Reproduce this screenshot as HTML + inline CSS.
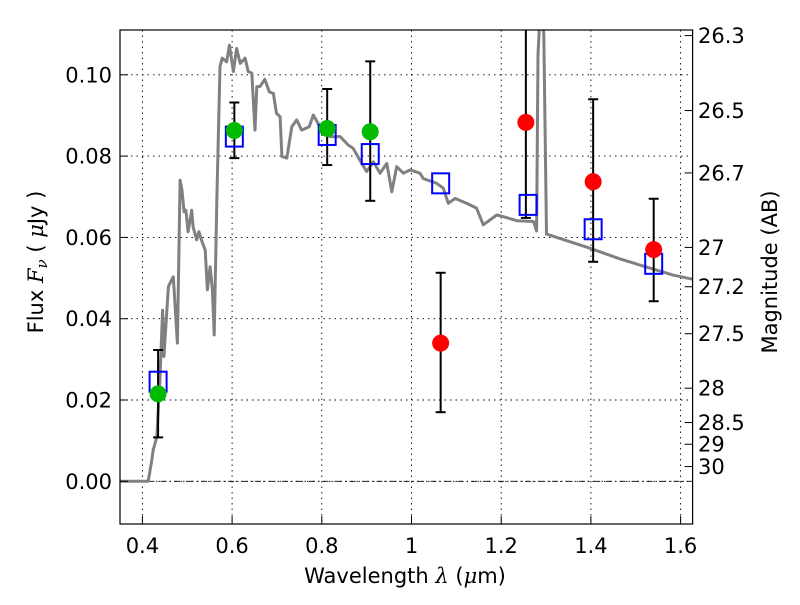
<!DOCTYPE html>
<html><head><meta charset="utf-8"><style>
body{margin:0;background:#fff;}
svg text{font-family:"DejaVu Sans","Liberation Sans",sans-serif;fill:#000;}
</style></head><body>
<svg id="chart" width="800" height="600" viewBox="0 0 800 600" xmlns="http://www.w3.org/2000/svg">
<defs><clipPath id="clip"><rect x="120" y="30" width="572.6" height="494"/></clipPath></defs>
<g id="grid"></g>
<g id="plot" clip-path="url(#clip)"></g>
<rect x="120" y="30" width="572.6" height="494" fill="none" stroke="#000" stroke-width="1.2"/>
<g id="axes"></g>
<text x="405" y="583" font-size="21" text-anchor="middle">Wavelength  <tspan font-style="italic" font-family="DejaVu Serif, serif">λ</tspan> (<tspan font-style="italic" font-family="DejaVu Serif, serif">μ</tspan>m)</text>
<text transform="translate(43,262) rotate(-90)" font-size="21" text-anchor="middle">Flux  <tspan font-style="italic" font-family="DejaVu Serif, serif">F</tspan><tspan font-style="italic" font-size="15" dy="4" font-family="DejaVu Serif, serif">ν</tspan><tspan dy="-4">  ( </tspan><tspan font-style="italic" font-family="DejaVu Serif, serif">μ</tspan>Jy )</text>
<text transform="translate(777,272) rotate(-90)" font-size="21" text-anchor="middle">Magnitude (AB)</text>
</svg>
<script>
const xTicks=[0.4,0.6,0.8,1.0,1.2,1.4,1.6];
const xTickLabels=["0.4","0.6","0.8","1","1.2","1.4","1.6"];
const yTicks=[0.00,0.02,0.04,0.06,0.08,0.10];
const yTickLabels=["0.00","0.02","0.04","0.06","0.08","0.10"];
const magTicks=[26.3,26.5,26.7,27,27.2,27.5,28,28.5,29,30];
const magTickLabels=["26.3","26.5","26.7","27","27.2","27.5","28","28.5","29","30"];
const specWave=[0.350,0.413,0.421,0.424,0.432,0.439,0.445,0.448,0.458,0.462,0.469,0.478,0.484,0.488,0.493,0.497,0.502,0.510,0.513,0.521,0.526,0.534,0.540,0.545,0.551,0.556,0.560,0.566,0.573,0.578,0.588,0.594,0.603,0.610,0.618,0.629,0.636,0.644,0.651,0.655,0.662,0.673,0.683,0.692,0.699,0.707,0.711,0.722,0.733,0.744,0.755,0.772,0.781,0.796,0.818,0.841,0.859,0.870,0.885,0.900,0.915,0.930,0.945,0.956,0.967,0.982,0.997,1.019,1.026,1.056,1.071,1.082,1.097,1.127,1.145,1.160,1.190,1.205,1.235,1.272,1.279,1.282,1.288,1.295,1.301,1.313,1.346,1.391,1.465,1.524,1.584,1.628];
const specFlux=[0,0,0.0052,0.0077,0.0109,0.0249,0.0421,0.0307,0.0479,0.0488,0.0503,0.034,0.0741,0.0717,0.0663,0.0667,0.0614,0.0667,0.0626,0.0594,0.0614,0.0586,0.0569,0.0471,0.0528,0.0471,0.036,0.07,0.102,0.1041,0.1032,0.1073,0.1008,0.1065,0.1028,0.1041,0.1008,0.1004,0.0864,0.0971,0.0971,0.0989,0.0958,0.0954,0.0905,0.0897,0.0799,0.0795,0.0872,0.0889,0.0864,0.0872,0.0901,0.0872,0.0848,0.0848,0.0827,0.0819,0.079,0.0762,0.0786,0.0758,0.0782,0.0712,0.0774,0.0758,0.0766,0.0758,0.0745,0.0733,0.0721,0.0684,0.0696,0.0682,0.0672,0.0631,0.0655,0.0651,0.0641,0.0639,0.0616,0.105,0.118,0.11,0.0608,0.0604,0.0592,0.0576,0.0547,0.0527,0.0507,0.0497];
const modelWave=[0.435,0.605,0.812,0.908,1.065,1.26,1.405,1.54];
const modelFlux=[0.0245,0.0848,0.0852,0.0805,0.0733,0.0680,0.0620,0.0535];
const greenWave=[0.435,0.605,0.812,0.908];
const greenFlux=[0.0215,0.0863,0.0868,0.0860];
const greenLo=[0.0108,0.0795,0.0778,0.069];
const greenHi=[0.0323,0.0932,0.0965,0.1033];
const redWave=[1.065,1.255,1.405,1.54];
const redFlux=[0.034,0.0883,0.0737,0.0570];
const redLo=[0.017,0.0648,0.054,0.0443];
const redHi=[0.0513,0.125,0.094,0.0695];

const X=v=>142.4+(v-0.4)*448.5;
const Y=v=>481.3-v*4065;
const M2F=m=>Math.pow(10,(23.9-m)/2.5);
const NS="http://www.w3.org/2000/svg";
function mk(tag,attrs,parent){const e=document.createElementNS(NS,tag);for(const k in attrs)e.setAttribute(k,attrs[k]);parent.appendChild(e);return e;}
const grid=document.getElementById('grid'),plot=document.getElementById('plot'),axes=document.getElementById('axes');
xTicks.forEach((t,i)=>{
  let l=mk('line',{x1:X(t),x2:X(t),y1:30,y2:524,stroke:'#000','stroke-width':0.9,'stroke-dasharray':'1.5,4'},grid);
  
  
  let tk=mk('line',{x1:X(t),x2:X(t),y1:524,y2:516,stroke:'#000'},axes);
  
  
  let tx=mk('text',{x:X(t),y:553,'font-size':21,'text-anchor':'middle'},axes);
  tx.textContent=xTickLabels[i];
  
  
});
yTicks.forEach((t,i)=>{
  let l=mk('line',{x1:120,x2:692.6,y1:Y(t),y2:Y(t),stroke:'#000','stroke-width':0.9,'stroke-dasharray':'1.5,4'},grid);
  
  
  let tk=mk('line',{x1:120,x2:128,y1:Y(t),y2:Y(t),stroke:'#000'},axes);
  
  
  let tx=mk('text',{x:112,y:Y(t)+7.5,'font-size':21,'text-anchor':'end'},axes);
  tx.textContent=yTickLabels[i];
  
  
});
let zl=mk('line',{x1:120,x2:692.6,y1:Y(0),y2:Y(0),stroke:'#000','stroke-width':0.9,'stroke-dasharray':'6,3,1.5,3'},grid);


magTicks.forEach((m,i)=>{
  const y=Y(M2F(m));
  let tk=mk('line',{x1:684.6,x2:692.6,y1:y,y2:y,stroke:'#000'},axes);
  
  
  let tx=mk('text',{x:698,y:y+7.5,'font-size':21},axes);
  tx.textContent=magTickLabels[i];
  
  
});
let d=specWave.map((w,i)=>(i?'L':'M')+X(w).toFixed(1)+','+Y(specFlux[i]).toFixed(1)).join('');
let sp=mk('path',{d:d,fill:'none',stroke:'#808080','stroke-width':3,'stroke-linejoin':'round'},plot);


function errbars(ws,lo,hi,name){ws.forEach((w,i)=>{
  const g=mk('g',{stroke:'#000','stroke-width':2},plot);
  
  
  mk('line',{x1:X(w),x2:X(w),y1:Y(lo[i]),y2:Y(hi[i])},g);
  mk('line',{x1:X(w)-5,x2:X(w)+5,y1:Y(lo[i]),y2:Y(lo[i])},g);
  mk('line',{x1:X(w)-5,x2:X(w)+5,y1:Y(hi[i]),y2:Y(hi[i])},g);
});}
errbars(greenWave,greenLo,greenHi,'green-error-bar');
errbars(redWave,redLo,redHi,'red-error-bar');
modelWave.forEach((w,i)=>{
  let r=mk('rect',{x:X(w)-8.5,y:Y(modelFlux[i])-10,width:17,height:20,fill:'none',stroke:'#0000ff','stroke-width':2},plot);
  
  
});
greenWave.forEach((w,i)=>{
  let c=mk('circle',{cx:X(w),cy:Y(greenFlux[i]),r:8.5,fill:'#00bb00'},plot);
  
  
});
redWave.forEach((w,i)=>{
  let c=mk('circle',{cx:X(w),cy:Y(redFlux[i]),r:8.5,fill:'#ff0000'},plot);
  
  
});
</script>
</body></html>
